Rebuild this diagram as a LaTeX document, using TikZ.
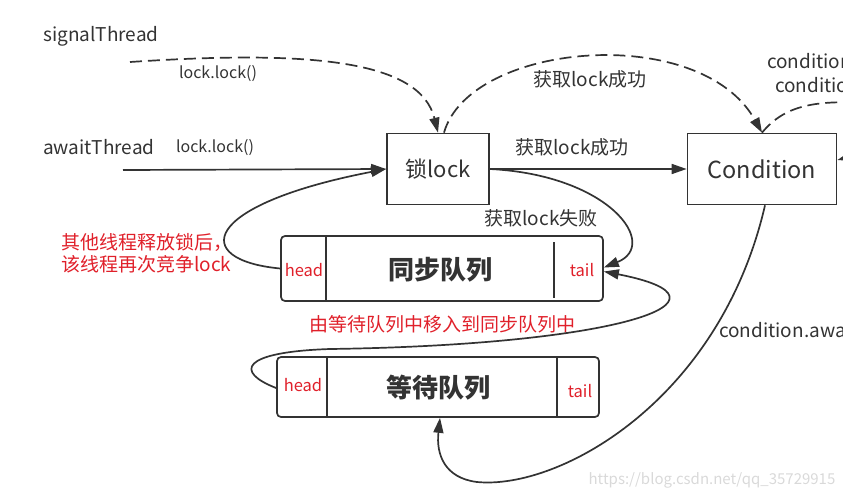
\documentclass[tikz,border=0pt]{standalone}
\usepackage{fontspec}
\setmainfont{Noto Sans CJK SC}
\usetikzlibrary{arrows.meta}
\definecolor{ink}{HTML}{333333}
\definecolor{redtxt}{HTML}{E0202A}
\begin{document}
\begin{tikzpicture}[x=1pt,y=-1pt,
  box/.style={draw=ink,line width=1.7pt,text=ink,inner sep=0pt},
  qbox/.style={draw=ink,line width=1.7pt,rounded corners=4pt,inner sep=0pt},
  conn/.style={draw=ink,line width=1.7pt,-{Triangle[length=15pt,width=10pt]}},
  dconn/.style={conn,dash pattern=on 12pt off 6pt},
  dline/.style={draw=ink,line width=1.7pt,dash pattern=on 12pt off 6pt},
  lbl/.style={text=ink,inner sep=0pt,font=\fontsize{19}{22}\selectfont},
  small/.style={text=ink,inner sep=0pt,font=\fontsize{16}{19}\selectfont},
  redl/.style={text=redtxt,inner sep=0pt,font=\fontsize{19}{22}\selectfont},
  ht/.style={text=redtxt,inner sep=0pt,font=\fontsize{16.5}{19}\selectfont},
  qt/.style={text=ink,inner sep=0pt,font=\fontsize{26}{29}\selectfont\bfseries}]
\useasboundingbox (0,0) rectangle (843,498);
\clip (0,0) rectangle (843,498);

% thread labels
\node[lbl,anchor=west] (sig) at (43,36) {signalThread};
\node[lbl,anchor=west] (aw) at (43,147) {awaitThread};
\node[small] (l1) at (218,74) {lock.lock()};
\node[small] (l2) at (215,148) {lock.lock()};
\coordinate (sigS) at (130,62);
\coordinate (awS) at (123,170);

% main boxes
\node[box,minimum width=102pt,minimum height=71pt,font=\fontsize{22}{25}\selectfont] (lock) at (438,169) {锁lock};
\node[box,minimum width=149pt,minimum height=71pt,font=\fontsize{23.5}{27}\selectfont] (cond) at (762,169) {Condition};

% queues
\node[qbox,minimum width=322pt,minimum height=65pt] (sync) at (442,268.5) {};
\draw[ink,line width=1.7pt] (326,236) -- (326,301);
\draw[ink,line width=1.7pt] (554,242) -- (554,298);
\node[ht] (sh) at (304,270) {head};
\node[ht] (st) at (582,270) {tail};
\node[qt] (syncT) at (440,270) {同步队列};

\node[qbox,minimum width=322pt,minimum height=60pt] (wait) at (438,387) {};
\draw[ink,line width=1.7pt] (327,357) -- (327,417);
\draw[ink,line width=1.7pt] (557,357) -- (557,417);
\node[ht] (wh) at (303,385) {head};
\node[ht] (wt) at (580,391) {tail};
\node[qt] (waitT) at (438,388) {等待队列};

% labels
\node[lbl] (ok1) at (590,79) {获取lock成功};
\node[lbl] (ok2) at (572,147) {获取lock成功};
\node[lbl] (fail) at (541,218) {获取lock失败};
\node[redl,anchor=west,align=left] (retry) at (61,253) {其他线程释放锁后，\\该线程再次竞争lock};
\node[redl] (move) at (442,324) {由等待队列中移入到同步队列中};
\node[lbl,anchor=west] (sig1) at (767,63) {condition.signalAll()};
\node[lbl,anchor=west] (sig2) at (775,87) {condition.signal()};
\node[lbl,anchor=west] (awt) at (719,332) {condition.await()};
\node[text=gray!30,inner sep=0pt,font=\fontsize{15}{17}\selectfont] (wm) at (712,480) {https://blog.csdn.net/qq\_35729915};

% connectors
\draw[dconn] (sigS) .. controls (310,50) and (420,60) .. (lock.north);
\draw[conn] (awS) -- (lock.west);
\draw[conn] (lock.east) -- (cond.west);
\draw[dconn] ([xshift=6pt]lock.north) .. controls (470,42) and (700,22) .. (cond.north);
\draw[dline] (cond.north) .. controls (785,105) and (815,100) .. (870,103);
\coordinate (offR) at (875,150);
\draw[conn] (offR) -- ([yshift=9pt]cond.east);
\draw[conn] (lock.east) .. controls (610,175) and (660,245) .. ([yshift=1pt]sync.east);
\draw[conn] ([yshift=-1pt]wait.west) .. controls (235,372) and (240,352) .. (330,349)
   .. controls (620,345) and (750,300) .. ([yshift=-3pt]sync.east);
\draw[conn] ([xshift=3pt]cond.south) .. controls (720,400) and (560,490) .. (477,482)
   .. controls (445,478) and (436,455) .. ([xshift=2pt]wait.south);
\draw[conn] (sync.west) .. controls (190,260) and (200,205) .. (lock.west);
\end{tikzpicture}
\end{document}
